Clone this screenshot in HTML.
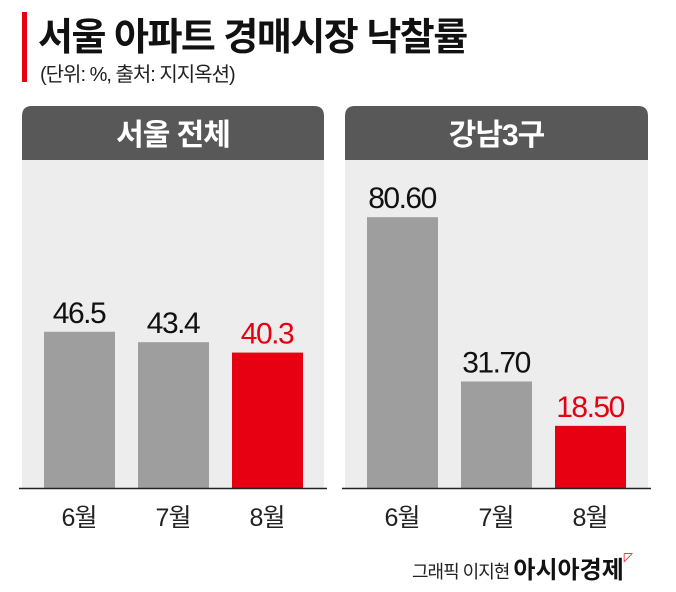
<!DOCTYPE html>
<html><head><meta charset="utf-8"><style>
body{margin:0;width:676px;height:592px;background:#fff;font-family:"Liberation Sans","Noto Sans CJK KR",sans-serif;position:relative;overflow:hidden}
.abs{position:absolute}
</style></head><body>
<div class="abs" style="left:22px;top:12px;width:5px;height:70px;background:#e60012"></div>
<div class="abs" style="left:38px;top:6px;font-size:38px;font-weight:bold;color:#111;letter-spacing:-1.5px;white-space:nowrap">서울 아파트 경매시장 낙찰률</div>
<div class="abs" style="left:40px;top:58px;font-size:20px;color:#222;letter-spacing:-1px;white-space:nowrap">(단위: %, 출처: 지지옥션)</div>
<svg class="abs" style="left:0;top:0" width="676" height="592" id="chart"></svg>
<div class="abs" style="left:412px;top:550px;font-size:18px;color:#222;letter-spacing:-1px;white-space:nowrap">그래픽 이지현 <b style="font-size:24px;color:#111;letter-spacing:0">아시아경제</b><span style="color:#e60012;font-size:12px;vertical-align:top">◸</span></div>
<script>
const months=["6월","7월","8월"];
const seoulValues=[46.5,43.4,40.3];
const seoulLabels=["46.5","43.4","40.3"];
const gangnamValues=[80.6,31.7,18.5];
const gangnamLabels=["80.60","31.70","18.50"];
const panelTitles=["서울 전체","강남3구"];
const svg=document.getElementById('chart');
const NS='http://www.w3.org/2000/svg';
const base=488, scale=3.36;
function y(v){return base-v*scale;}
function mk(t,a){const e=document.createElementNS(NS,t);for(const k in a)e.setAttribute(k,a[k]);svg.appendChild(e);return e;}
const panels=[{x:22,w:302,vals:seoulValues,labs:seoulLabels,key:'seoul'},{x:345,w:303,vals:gangnamValues,labs:gangnamLabels,key:'gangnam'}];
panels.forEach((p,pi)=>{
 const bg=mk('rect',{x:p.x,y:150,width:p.w,height:base-150,fill:'#ededed'});
 
 
 const hd=mk('path',{d:`M${p.x} 160 V116 Q${p.x} 106 ${p.x+10} 106 H${p.x+p.w-10} Q${p.x+p.w} 106 ${p.x+p.w} 116 V160 Z`,fill:'#585858'});
 
 
 const ht=mk('text',{x:p.x+p.w/2,y:145,'text-anchor':'middle','font-size':30,'font-weight':'bold',fill:'#fff','letter-spacing':'-1'});
 ht.textContent=panelTitles[pi];
 
 
 p.vals.forEach((v,i)=>{
  const cx=p.x+57+i*94;
  const col=i===2?'#e60012':'#9e9e9e';
  const r=mk('rect',{x:cx-35,y:y(v),width:71,height:base-y(v),fill:col});
  
  
  const t=mk('text',{x:cx,y:y(v)-9,'text-anchor':'middle','font-size':30,fill:i===2?'#e60012':'#111','letter-spacing':'-1.5'});
  t.textContent=p.labs[i];
  
  
  const m=mk('text',{x:cx,y:526,'text-anchor':'middle','font-size':25,fill:'#222','letter-spacing':'-1'});
  m.textContent=months[i];
  
  
 });
 const ax=mk('line',{x1:p.x-3,x2:p.x+p.w+3,y1:base+0.5,y2:base+0.5,stroke:'#222','stroke-width':1.5});
 
 
});
</script>
</body></html>
